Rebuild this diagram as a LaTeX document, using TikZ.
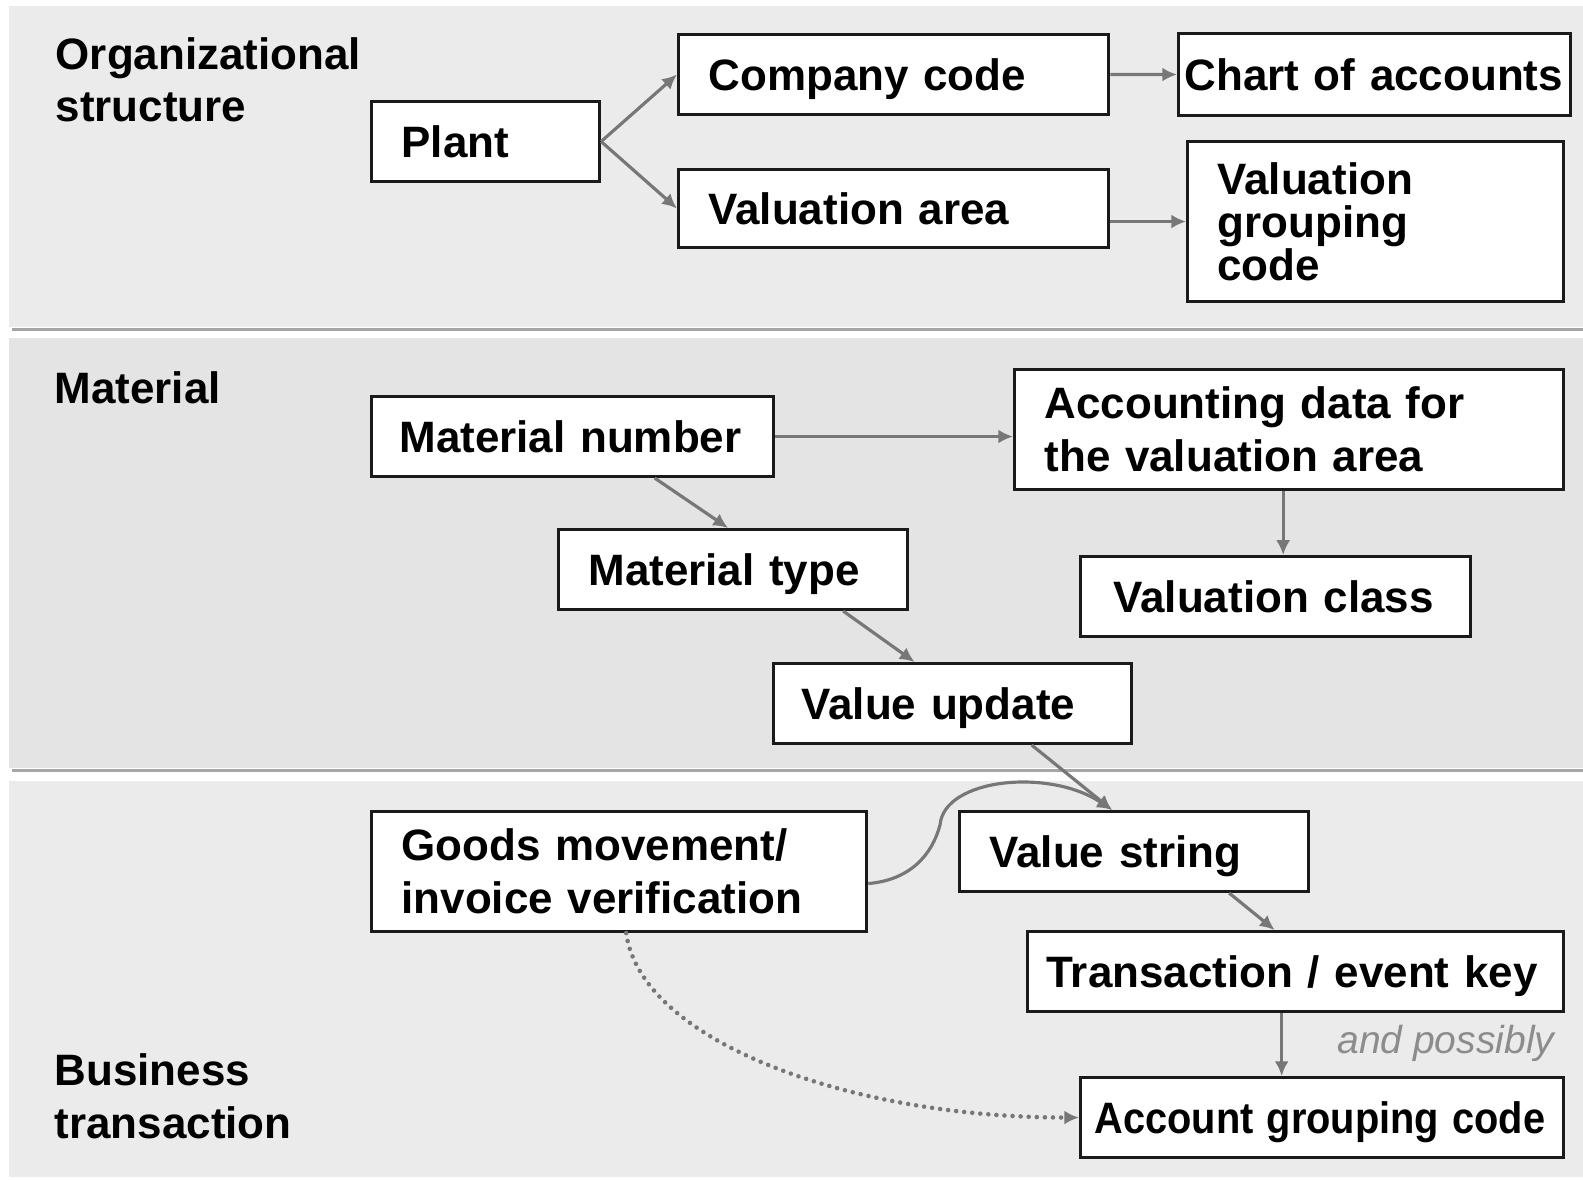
\documentclass[tikz,border=0pt]{standalone}
\usepackage{fontspec}
\setmainfont{Liberation Sans}
\usepackage{graphicx}
\usetikzlibrary{arrows.meta}

\definecolor{bandlight}{HTML}{EBEBEB}
\definecolor{banddark}{HTML}{E4E4E4}
\definecolor{rulegray}{HTML}{A6A6A6}
\definecolor{linegray}{HTML}{777777}
\definecolor{boxline}{HTML}{1A1A1A}
\definecolor{notegray}{HTML}{8C8C8C}

\newcommand{\boxfont}{\fontsize{12.5}{15}\selectfont\bfseries}
\newcommand{\headfont}{\fontsize{12.5}{14.8}\selectfont\bfseries}

\tikzset{
  box/.style={draw=boxline, line width=0.85pt, fill=white, anchor=north west,
    align=left, inner xsep=0.3cm, inner ysep=0pt, font=\boxfont, text=black},
  oneline/.style={text height=9pt, text depth=0pt},
  head/.style={anchor=base west, align=left, inner sep=0pt, font=\headfont},
  flow/.style={draw=linegray, line width=0.9pt, -{Latex[length=4.2pt,width=4pt]}},
  dotflow/.style={flow, line cap=round, dash pattern=on 0pt off 2.3pt, line width=1.3pt},
}

\begin{document}
\begin{tikzpicture}[x=0.01cm, y=-0.01cm]
    \useasboundingbox (0,0) rectangle (1583,1179);
    \fill[white] (0,0) rectangle (1583,1179);

    % bands
    \fill[bandlight] (9,6) rectangle (1583,327);
    \draw[rulegray, line width=0.03cm] (12,329) -- (1583,329);
    \fill[banddark] (9,338) rectangle (1583,768);
    \draw[rulegray, line width=0.03cm] (12,770) -- (1583,770);
    \fill[bandlight] (9,781) rectangle (1583,1177);

    % base anchor = last line
    \node[head] (orghead) at (55,122) {Organizational\\structure};
    \node[head] (mathead) at (54,403) {Material};
    \node[head] (bushead) at (54,1138) {Business\\transaction};

    % organizational structure
    \node[box, oneline, minimum height=0.8cm, text width=1.68cm] (plant) at (370,100) {Plant};
    \node[box, oneline, minimum height=0.8cm, text width=3.7cm] (company) at (677,33) {Company code};
    \node[box, oneline, minimum height=0.82cm, inner xsep=0.06cm, text width=3.8cm] (chart) at (1177,32) {Chart of accounts};
    \node[box, oneline, minimum height=0.78cm, text width=3.7cm] (valarea) at (677,168) {Valuation area};
    \node[box, minimum height=1.6cm, text width=3.16cm, font=\fontsize{12.5}{12.2}\selectfont\bfseries] (vgc) at (1186,140) {Valuation\\grouping\\code};

    \draw[flow] (plant.east) -- (company.west);
    \draw[flow] (plant.east) -- (valarea.west);
    \draw[flow] (company.east) -- (chart.west);
    \draw[flow] (valarea.east |- vgc.west) -- (vgc.west);

    % material
    \node[box, oneline, minimum height=0.8cm, inner xsep=0.28cm, text width=3.46cm] (matnum) at (370,395) {Material number};
    \node[box, minimum height=1.2cm, text width=4.89cm] (acct) at (1013,368) {Accounting data for\\the valuation area};
    \node[box, oneline, minimum height=0.8cm, text width=2.89cm] (mattype) at (557,528) {Material type};
    \node[box, oneline, minimum height=0.8cm, inner xsep=0.33cm, text width=3.24cm] (valclass) at (1079,555) {Valuation class};
    \node[box, oneline, minimum height=0.8cm, inner xsep=0.28cm, text width=3.02cm] (valupd) at (772,662) {Value update};

    \draw[flow] (matnum.east) -- (matnum.east -| acct.west);
    \draw[flow] ([xshift=0.82cm]matnum.south) -- ([xshift=-0.05cm]mattype.north);
    \draw[flow] ([xshift=-0.06cm]acct.south) -- ([xshift=-0.06cm]acct.south |- valclass.north);
    \draw[flow] ([xshift=1.1cm]mattype.south) -- ([xshift=-0.38cm]valupd.north);

    % business transaction
    \node[box, minimum height=1.2cm, text width=4.35cm] (goods) at (370,810) {Goods movement/\\invoice verification};
    \node[box, oneline, minimum height=0.8cm, text width=2.89cm] (valstr) at (958,810) {Value string};
    \node[box, oneline, minimum height=0.8cm, inner xsep=0.19cm, text width=4.98cm] (trans) at (1026,930) {Transaction / event key};
    \node[box, oneline, minimum height=0.8cm, inner xsep=0.14cm, text width=4.55cm] (acctgrp) at (1079,1076) {\scalebox{0.905}[1]{Account grouping code}};
    \node[anchor=base east, inner sep=0pt, font=\fontsize{11.1}{13}\selectfont\itshape, text=notegray] (possibly) at (1555,1053) {and possibly};

    \draw[flow] ([xshift=0.79cm]valupd.south) -- ([xshift=-0.22cm]valstr.north);
    \draw[flow] ([yshift=-0.12cm]goods.east) .. controls (910,880) and (932,855) .. (940,825)
        .. controls (944,778) and (1050,768) .. ([xshift=-0.22cm]valstr.north);
    \draw[flow] ([xshift=0.95cm]valstr.south) -- ([xshift=-0.21cm]trans.north);
    \draw[flow] ([xshift=-0.14cm]trans.south) -- ([xshift=-0.14cm]trans.south |- acctgrp.north);
    \draw[dotflow] ([xshift=0.07cm]goods.south) .. controls +(15,108) and +(-230,0) .. (acctgrp.west);
\end{tikzpicture}
\end{document}
